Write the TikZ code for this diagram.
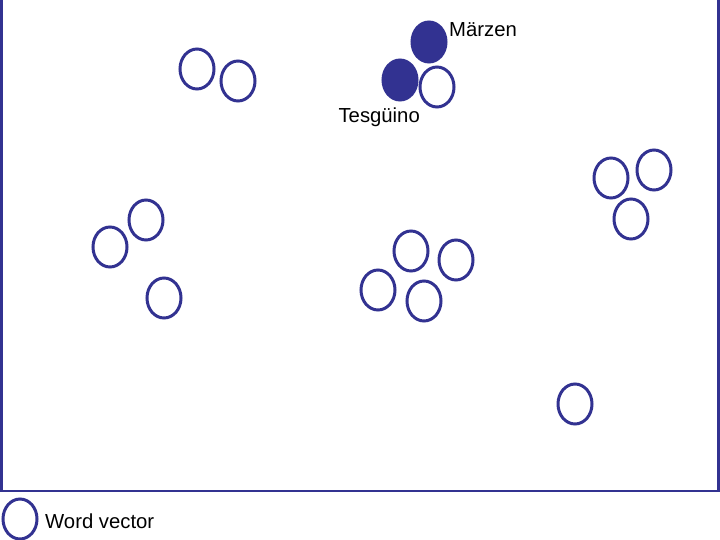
\documentclass[tikz,border=0pt]{standalone}
\usepackage{fontspec}
\setmainfont{Liberation Sans}
\usetikzlibrary{shapes.geometric}
\definecolor{vecblue}{RGB}{50,50,145}

\begin{document}
\begin{tikzpicture}[x=1pt,y=-1pt]
    \tikzstyle{every node}+=[inner sep=0pt]
    \tikzstyle{wordvec}=[draw=vecblue, line width=3pt, ellipse, minimum width=34pt, minimum height=40pt]
    \tikzstyle{hitvec}=[wordvec, fill=vecblue]
    \tikzstyle{lbl}=[font=\fontsize{20.3}{24}\selectfont, text=black]
    \useasboundingbox (0,0) rectangle (720,540);
    \draw [vecblue, line width=2.6pt] (1.5,0) -- (1.5,491) -- (718.7,491) -- (718.7,0);
    \node [wordvec] (v1) at (197,69) {};
    \node [wordvec] (v2) at (238,81) {};
    \node [hitvec] (marzen) at (429,42) {};
    \node [hitvec] (tesguino) at (400,80) {};
    \node [wordvec] (v3) at (437,87) {};
    \node [lbl, anchor=west] (lmarzen) at (449,30) {Märzen};
    \node [lbl, anchor=east] (ltesguino) at (420,117) {Tesgüino};
    \node [wordvec] (v4) at (611,178) {};
    \node [wordvec] (v5) at (654,170) {};
    \node [wordvec] (v6) at (631,219) {};
    \node [wordvec] (v7) at (146,220) {};
    \node [wordvec] (v8) at (110,247) {};
    \node [wordvec] (v9) at (164,298) {};
    \node [wordvec] (v10) at (411,251) {};
    \node [wordvec] (v11) at (456,260) {};
    \node [wordvec] (v12) at (378,290) {};
    \node [wordvec] (v13) at (424,301) {};
    \node [wordvec] (v14) at (575,404) {};
    \node [wordvec] (key) at (20,519) {};
    \node [lbl, anchor=west] (lkey) at (45,521) {Word vector};
\end{tikzpicture}
\end{document}
